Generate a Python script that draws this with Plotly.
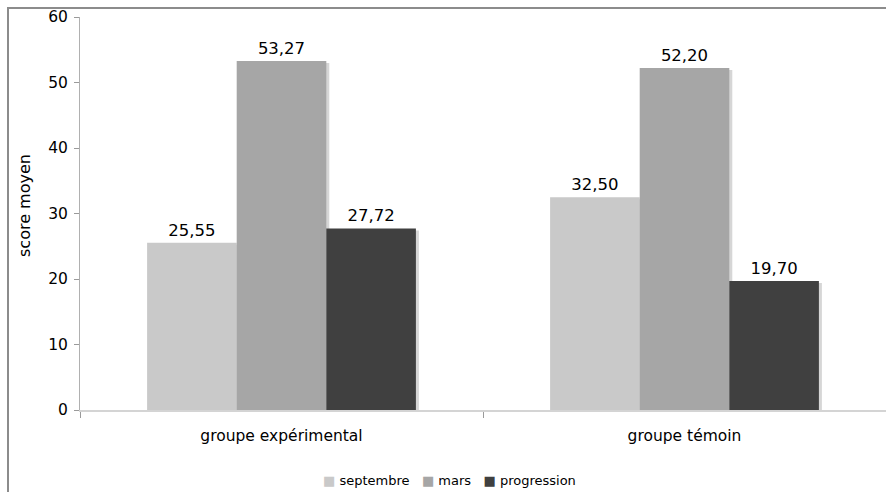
import plotly.graph_objects as go

# Mean scores per group and test session
groups = ["groupe expérimental", "groupe témoin"]
series_names = ["septembre", "mars", "progression"]
septembre = [25.55, 32.50]
mars = [53.27, 52.20]
progression = [27.72, 19.70]
series_values = [septembre, mars, progression]
colors = ["#c9c9c9", "#a6a6a6", "#404040"]
y_ticks = [0, 10, 20, 30, 40, 50, 60]

FONT = "DejaVu Sans, Verdana, sans-serif"
W, H = 886, 492
ML, MR, MT, MB = 80, 0, 17, 82
plot_w = W - ML - MR
plot_h = H - MT - MB


def px_x(px):
    return (px - ML) / plot_w


def px_y(py):
    return (MT + plot_h - py) / plot_h


fig = go.Figure()

# soft drop shadow behind each bar: hidden base axes nudged a few px,
# the visible bars sit on the overlaying axes so they are drawn on top
dx_px, dy_px = 3, 2
dx = 2.0 * dx_px / plot_w
dy = 60.0 * dy_px / plot_h
for name, vals in zip(series_names, series_values):
    fig.add_trace(go.Bar(
        x=groups, y=vals, xaxis="x", yaxis="y",
        marker=dict(color="#d6d6d6", line=dict(width=0)),
        showlegend=False, hoverinfo="skip",
    ))

for name, vals, col in zip(series_names, series_values, colors):
    fig.add_trace(go.Bar(
        x=groups, y=vals, name=name, xaxis="x2", yaxis="y2",
        marker=dict(color=col, line=dict(width=0)),
        text=vals, texttemplate="%{y:.2f}", textposition="outside",
        textfont=dict(family=FONT, size=16.5, color="#000000"),
        cliponaxis=False, showlegend=False,
    ))

# compact legend row: coloured square followed by the series name
legend_text = "&nbsp;&nbsp;&nbsp;".join(
    f"<span style='color:{col}'>■</span> {name}"
    for name, col in zip(series_names, colors)
)

fig.update_layout(
    width=W, height=H,
    margin=dict(l=ML, r=MR, t=MT, b=MB, autoexpand=False),
    paper_bgcolor="white", plot_bgcolor="white",
    separators=", ",
    barmode="group", bargap=0.333, bargroupgap=0,
    font=dict(family=FONT, size=14, color="#000000"),
    showlegend=False,
    annotations=[
        dict(
            text=legend_text, xref="paper", yref="paper",
            x=px_x(449), y=px_y(481),
            xanchor="center", yanchor="middle", showarrow=False,
            font=dict(family=FONT, size=13, color="#000000"),
        ),
        dict(
            text="score moyen", xref="paper", yref="paper",
            x=px_x(24), y=px_y(206), textangle=-90,
            xanchor="center", yanchor="middle", showarrow=False,
            font=dict(family=FONT, size=16, color="#000000"),
        ),
    ],
    xaxis=dict(
        type="category", range=[-0.5 - dx, 1.5 - dx],
        visible=False, showgrid=False, zeroline=False,
    ),
    yaxis=dict(
        range=[dy, 60 + dy], visible=False,
        showgrid=False, zeroline=False,
    ),
    xaxis2=dict(
        type="category", overlaying="x", range=[-0.5, 1.5], side="bottom",
        showline=True, linecolor="#d4d4d4", linewidth=2,
        ticks="outside", tickson="boundaries", ticklen=6, tickcolor="#9a9a9a",
        tickfont=dict(family=FONT, size=15.5), ticklabelstandoff=10,
        showgrid=False, zeroline=False, automargin=False,
    ),
    yaxis2=dict(
        overlaying="y", side="left",
        range=[0, 60], tickvals=y_ticks, showgrid=False, zeroline=False,
        showline=True, linecolor="#b0b0b0", linewidth=1,
        ticks="outside", ticklen=5, tickcolor="#9a9a9a",
        tickfont=dict(family=FONT, size=15.5), ticklabelstandoff=3,
        automargin=False,
    ),
    shapes=[dict(
        type="rect", xref="paper", yref="paper",
        x0=px_x(8), x1=px_x(W + 10),
        y0=px_y(H + 10), y1=px_y(8),
        line=dict(color="#8c8c8c", width=2), fillcolor="rgba(0,0,0,0)",
        layer="below",
    )],
)

fig.write_html("out.html")
